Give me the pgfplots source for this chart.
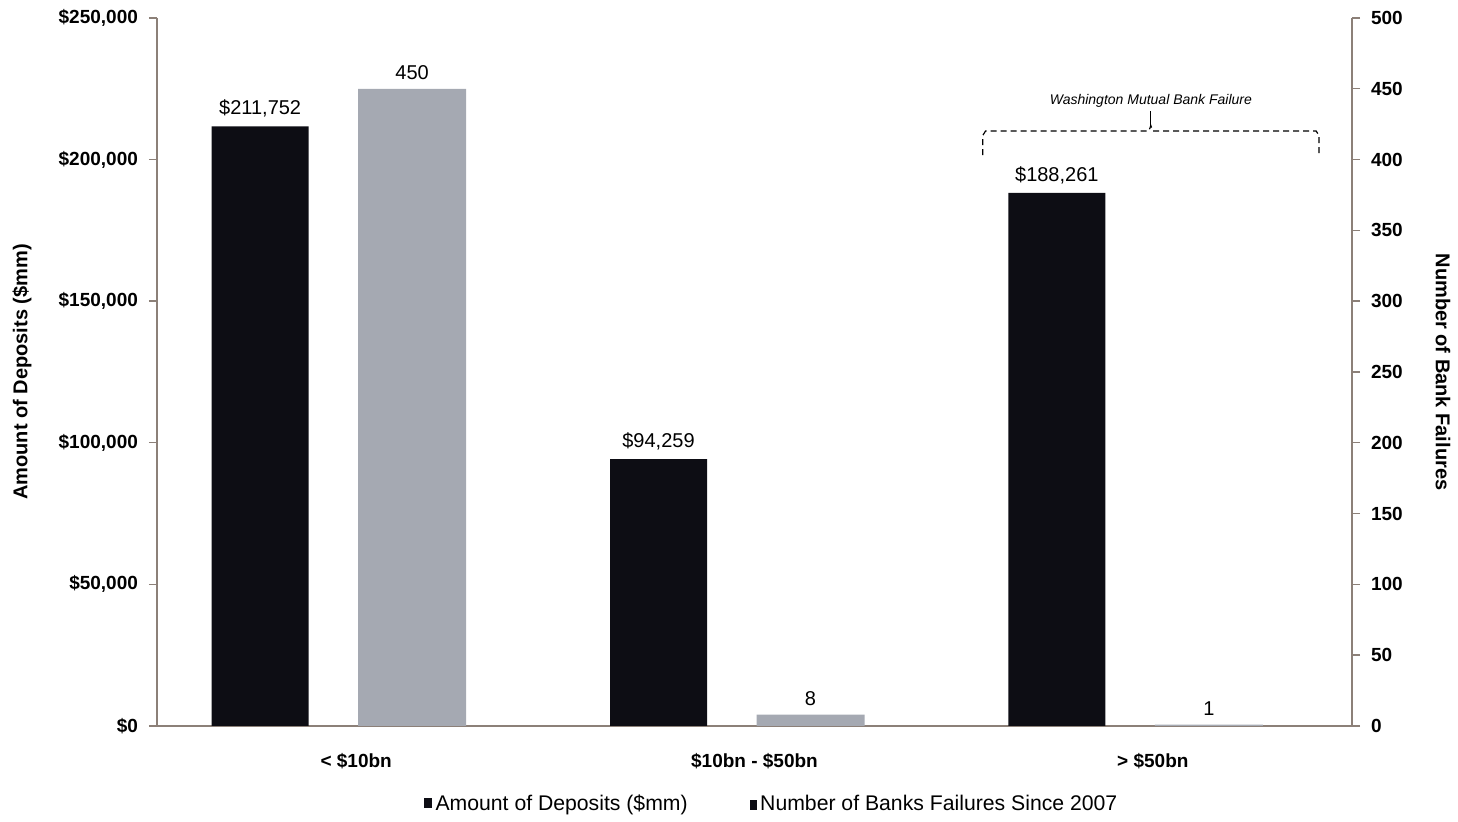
\documentclass[border=0pt]{standalone}
\usepackage{pgfplots}
\pgfplotsset{compat=1.18}
\usepackage{fontspec}
\setmainfont{Liberation Sans}
\definecolor{barblack}{HTML}{0D0D14}
\definecolor{bargray}{HTML}{A5A9B2}
\definecolor{axisc}{HTML}{8C8078}
\begin{document}
\begin{tikzpicture}
\pgfplotsset{
  common/.style={
    scale only axis, width=597.5pt, height=354pt,
    xmin=-0.5, xmax=2.5,
    ybar, ymin=0,
    axis line style={axisc, line width=0.8pt, -},
    tick style={axisc, line width=0.7pt},
    major tick length=4pt,
    /pgf/number format/assume math mode=true,
    clip=false,
  }
}
\begin{axis}[common, name=ax,
  ymax=250000,
  axis y line*=left, axis x line*=bottom,
  ytick={0,50000,...,250000},
  scaled y ticks=false,
  yticklabel={\$\pgfmathprintnumber[fixed,1000 sep={,}]{\tick}},
  yticklabel style={font=\bfseries\fontsize{9.5}{10}\selectfont, xshift=-2pt},
  xtick={0,1,2},
  xticklabels={< \$10bn, \$10bn - \$50bn, > \$50bn},
  xticklabel style={font=\bfseries\fontsize{9.5}{10}\selectfont, yshift=-6pt},
  xtick style={draw=none},
  extra x ticks={-0.5,0.5,1.5},
  extra x tick labels={},
  extra x tick style={tick style={axisc, line width=0.7pt}, major tick length=5pt, tick align=outside},
  tick align=outside,
  bar width=48.5pt, bar shift=-48pt,
  nodes near coords={\pgfplotspointmeta},
  point meta=explicit symbolic,
  every node near coord/.append style={font=\fontsize{10}{11}\selectfont, black, yshift=1pt},
  legend style={at={(0.515,-0.085)}, anchor=north, draw=none, legend columns=2,
    font=\fontsize{10.6}{12}\selectfont,
    /tikz/every even column/.append style={column sep=36pt}},
  legend image code/.code={\fill[barblack] (0pt,-2pt) rectangle (4pt,3pt);},
]
\addplot[fill=barblack, draw=none] coordinates {(0,211752) [\$211,752] (1,94259) [\$94,259] (2,188261) [\$188,261]};
\addlegendentry{Amount of Deposits (\$mm)}
\addlegendimage{empty legend}
\addlegendentry{\hspace{-9pt}\tikz\fill[barblack] (0pt,-2pt) rectangle (3.5pt,3pt);\,Number of Banks Failures Since 2007}
% axis titles
\node[rotate=90, font=\bfseries\fontsize{10}{11}\selectfont] at ([xshift=-67.5pt]rel axis cs:0,0.5) {Amount of Deposits (\$mm)};
\node[rotate=-90, font=\bfseries\fontsize{10}{11}\selectfont] at ([xshift=45.5pt]rel axis cs:1,0.5) {Number of Bank Failures};
% annotation
\draw[densely dashed, black, line width=0.6pt]
  (axis cs:1.573,201600) -- (axis cs:1.573,208500) -- (axis cs:1.58,210100)
  -- (axis cs:1.99,210100) -- (axis cs:1.995,212000) -- (axis cs:2.0,210100)
  -- (axis cs:2.41,210100) -- (axis cs:2.417,208500) -- (axis cs:2.417,201600);
\draw[black, line width=0.6pt] (axis cs:1.995,212000) -- (axis cs:1.995,217000);
\node[font=\itshape\fontsize{7}{8}\selectfont, anchor=base] at (axis cs:1.995,219500) {Washington Mutual Bank Failure};
\end{axis}
\begin{axis}[common,
  ymax=500,
  axis y line*=right, axis x line=none,
  ytick={0,50,...,500},
  yticklabel style={font=\bfseries\fontsize{9.5}{10}\selectfont, xshift=2pt},
  tick align=outside,
  bar width=54pt, bar shift=28pt,
  nodes near coords,
  every node near coord/.append style={font=\fontsize{10}{11}\selectfont, black, yshift=1pt},
]
\addplot[fill=bargray, draw=none] coordinates {(0,450) (1,8) (2,1)};
\end{axis}
\path ([xshift=-78.5pt,yshift=-47.5pt]ax.south west) rectangle ([xshift=53pt,yshift=9pt]ax.north east);
\end{tikzpicture}
\end{document}
